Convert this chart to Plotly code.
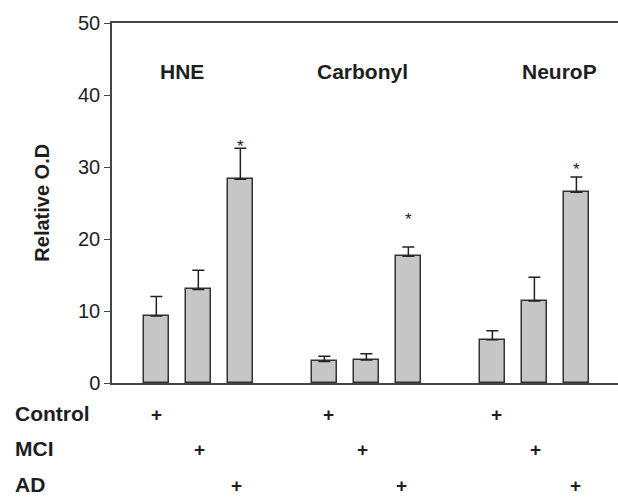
import plotly.graph_objects as go

# ---- data ----
groups = ["HNE", "Carbonyl", "NeuroP"]
conditions = ["Control", "MCI", "AD"]
bar_positions = [0, 1, 2, 4, 5, 6, 8, 9, 10]
values = [9.3, 13.0, 28.3, 3.0, 3.2, 17.6, 6.0, 11.4, 26.5]
errors = [2.7, 2.65, 4.3, 0.7, 0.85, 1.3, 1.25, 3.3, 2.1]
star_x = [2, 6, 10]
star_y = [33.3, 23.1, 30.1]
group_label_x = [0.6, 4.9, 9.59]
plus_x = {
    "Control": [0.01, 4.11, 8.10],
    "MCI": [1.02, 4.90, 9.02],
    "AD": [1.91, 5.84, 9.99],
}
y_ticks = [0, 10, 20, 30, 40, 50]

FONT = "Liberation Sans, Arial, sans-serif"
INK = "#1e1e1e"

fig = go.Figure()
fig.add_trace(go.Bar(
    x=bar_positions, y=values, width=0.61,
    marker=dict(color="#c6c6c6", line=dict(color="#333333", width=1.5)),
    error_y=dict(type="data", symmetric=False, array=errors,
                 arrayminus=[0] * len(errors), color="#222222",
                 thickness=1.5, width=6),
    showlegend=False,
))

annotations = []
# significance stars
for sx, sy in zip(star_x, star_y):
    annotations.append(dict(x=sx, y=sy, xref="x", yref="y", text="*",
                            showarrow=False, yanchor="middle", yshift=-3,
                            font=dict(family=FONT, size=17, color=INK)))
# group labels
for g, gx in zip(groups, group_label_x):
    annotations.append(dict(x=gx, y=43.2, xref="x", yref="y", text="<b>%s</b>" % g,
                            showarrow=False, font=dict(family=FONT, size=21, color=INK)))
# condition rows
row_y = {"Control": -0.1214, "MCI": -0.2194, "AD": -0.3186}
for c in conditions:
    annotations.append(dict(x=-0.196, y=row_y[c], xref="paper", yref="paper",
                            text="<b>%s</b>" % c, showarrow=False, xanchor="left",
                            font=dict(family=FONT, size=21, color=INK)))
    for px in plus_x[c]:
        annotations.append(dict(x=px, y=row_y[c], xref="x", yref="paper",
                                text="<b>+</b>", showarrow=False,
                                font=dict(family=FONT, size=19, color=INK)))
# y title
annotations.append(dict(x=-0.139, y=0.5, xref="paper", yref="paper",
                        text="<b>Relative O.D</b>", textangle=-90, showarrow=False,
                        xanchor="center", yanchor="middle",
                        font=dict(family=FONT, size=20, color=INK)))

fig.update_layout(
    width=618, height=504,
    margin=dict(l=112, r=0, t=23, b=121),
    paper_bgcolor="white", plot_bgcolor="white",
    annotations=annotations,
    bargap=0,
    xaxis=dict(range=[-1.055, 10.99], showticklabels=False, ticks="",
               showgrid=False, zeroline=False, showline=True, mirror=True,
               linecolor="#444444", linewidth=1.5),
    yaxis=dict(range=[0, 50], tickvals=y_ticks, ticks="outside", ticklen=6,
               tickwidth=1.2, tickcolor="#444444", showgrid=False, zeroline=False,
               showline=True, linecolor="#444444", linewidth=1.5,
               tickfont=dict(family=FONT, size=20, color=INK)),
)

fig.write_html("out.html")
